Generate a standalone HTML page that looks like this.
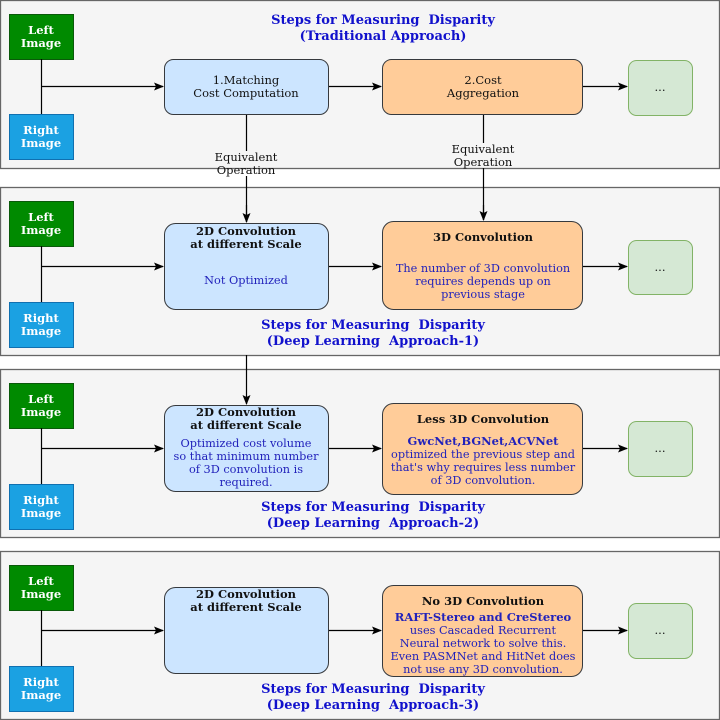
<!DOCTYPE html>
<html><head><meta charset="utf-8"><style>
html,body{margin:0;padding:0;background:#fff;}
svg{display:block;font-family:"DejaVu Serif","Liberation Serif",serif;}
.t{fill:#1111cc;font-weight:bold;font-size:13px;text-anchor:middle;white-space:pre;}
.w{fill:#fff;font-weight:bold;font-size:11.5px;text-anchor:middle;}
.k{fill:#111;font-size:11.5px;text-anchor:middle;}
.kb{fill:#111;font-weight:bold;font-size:11.5px;text-anchor:middle;}
.b{fill:#2222bb;font-size:11.3px;text-anchor:middle;}
.bb{fill:#2222bb;font-weight:bold;font-size:11.5px;text-anchor:middle;}
</style></head><body>
<svg width="720" height="720" viewBox="0 0 720 720">
<defs><marker id="a" markerWidth="10" markerHeight="8" refX="9" refY="4" orient="auto" markerUnits="userSpaceOnUse"><path d="M0,0 L10,4 L0,8 L2,4z" fill="#000"/></marker></defs>
<g fill="#f5f5f5" stroke="#666" stroke-width="1.3">
<rect x="0.5" y="0.5" width="719" height="168"/>
<rect x="0.5" y="187.5" width="719" height="168"/>
<rect x="0.5" y="369.5" width="719" height="168"/>
<rect x="0.5" y="551.5" width="719" height="168"/>
</g>
<g stroke="#0a5a0a" fill="#008a00">
<rect x="9.5" y="14.5" width="64" height="45"/><rect x="9.5" y="201.5" width="64" height="45"/>
<rect x="9.5" y="383.5" width="64" height="45"/><rect x="9.5" y="565.5" width="64" height="45"/>
</g>
<g stroke="#1070b0" fill="#1ba1e2">
<rect x="9.5" y="114.5" width="64" height="45"/><rect x="9.5" y="302.5" width="64" height="45"/>
<rect x="9.5" y="484.5" width="64" height="45"/><rect x="9.5" y="666.5" width="64" height="45"/>
</g>
<g>
<text class="w" x="41" y="34">Left</text><text class="w" x="41" y="47">Image</text>
<text class="w" x="41" y="134">Right</text><text class="w" x="41" y="147">Image</text>
<text class="w" x="41" y="221">Left</text><text class="w" x="41" y="234">Image</text>
<text class="w" x="41" y="322">Right</text><text class="w" x="41" y="335">Image</text>
<text class="w" x="41" y="403">Left</text><text class="w" x="41" y="416">Image</text>
<text class="w" x="41" y="504">Right</text><text class="w" x="41" y="517">Image</text>
<text class="w" x="41" y="585">Left</text><text class="w" x="41" y="598">Image</text>
<text class="w" x="41" y="686">Right</text><text class="w" x="41" y="699">Image</text>
</g>
<g stroke="#000" stroke-width="1.2" fill="none">
<path d="M41.5 59V114M41.5 246V302M41.5 428V484M41.5 610V666"/>
<path d="M41.5 86.5H163" marker-end="url(#a)"/>
<path d="M41.5 266.5H163" marker-end="url(#a)"/>
<path d="M41.5 448.5H163" marker-end="url(#a)"/>
<path d="M41.5 630.5H163" marker-end="url(#a)"/>
<path d="M328 86.5H381" marker-end="url(#a)"/>
<path d="M583 86.5H627" marker-end="url(#a)"/>
<path d="M328 266.5H381" marker-end="url(#a)"/>
<path d="M583 266.5H627" marker-end="url(#a)"/>
<path d="M328 448.5H381" marker-end="url(#a)"/>
<path d="M583 448.5H627" marker-end="url(#a)"/>
<path d="M328 630.5H381" marker-end="url(#a)"/>
<path d="M583 630.5H627" marker-end="url(#a)"/>
<path d="M246.5 114V151M246.5 176V222" />
<path d="M246.5 205V222" marker-end="url(#a)"/>
<path d="M483.5 114V143M483.5 168V220"/>
<path d="M483.5 205V220" marker-end="url(#a)"/>
<path d="M246.5 355V404" marker-end="url(#a)"/>
</g>
<text class="k" x="246" y="161">Equivalent</text><text class="k" x="246" y="174">Operation</text>
<text class="k" x="483" y="153">Equivalent</text><text class="k" x="483" y="166">Operation</text>
<g fill="#cce5ff" stroke="#36393d" stroke-width="1">
<rect x="164.5" y="59.5" width="164" height="55" rx="9"/>
<rect x="164.5" y="223.5" width="164" height="86" rx="11"/>
<rect x="164.5" y="405.5" width="164" height="86" rx="11"/>
<rect x="164.5" y="587.5" width="164" height="86" rx="11"/>
</g>
<g fill="#ffcc99" stroke="#36393d" stroke-width="1">
<rect x="382.5" y="59.5" width="200" height="55" rx="9"/>
<rect x="382.5" y="221.5" width="200" height="88" rx="11"/>
<rect x="382.5" y="403.5" width="200" height="91" rx="11"/>
<rect x="382.5" y="585.5" width="200" height="91" rx="11"/>
</g>
<g fill="#d5e8d4" stroke="#82b366" stroke-width="1">
<rect x="628.5" y="60.5" width="64" height="55" rx="8"/>
<rect x="628.5" y="240.5" width="64" height="54" rx="8"/>
<rect x="628.5" y="421.5" width="64" height="55" rx="8"/>
<rect x="628.5" y="603.5" width="64" height="55" rx="8"/>
</g>
<text class="k" x="660" y="91">...</text><text class="k" x="660" y="271">...</text>
<text class="k" x="660" y="452">...</text><text class="k" x="660" y="634">...</text>
<text class="k" x="246" y="84">1.Matching</text><text class="k" x="246" y="97">Cost Computation</text>
<text class="k" x="483" y="84">2.Cost</text><text class="k" x="483" y="97">Aggregation</text>
<text class="kb" x="246" y="235">2D Convolution</text><text class="kb" x="246" y="248">at different Scale</text>
<text class="b" x="246" y="284">Not Optimized</text>
<text class="kb" x="483" y="241">3D Convolution</text>
<text class="b" x="483" y="272">The number of 3D convolution</text>
<text class="b" x="483" y="285">requires depends up on</text>
<text class="b" x="483" y="298">previous stage</text>
<text class="kb" x="246" y="416">2D Convolution</text><text class="kb" x="246" y="429">at different Scale</text>
<text class="b" x="246" y="447">Optimized cost volume</text>
<text class="b" x="246" y="460">so that minimum number</text>
<text class="b" x="246" y="473">of 3D convolution is</text>
<text class="b" x="246" y="486">required.</text>
<text class="kb" x="483" y="423">Less 3D Convolution</text>
<text class="bb" x="483" y="445">GwcNet,BGNet,ACVNet</text>
<text class="b" x="483" y="458">optimized the previous step and</text>
<text class="b" x="483" y="471">that's why requires less number</text>
<text class="b" x="483" y="484">of 3D convolution.</text>
<text class="kb" x="246" y="598">2D Convolution</text><text class="kb" x="246" y="611">at different Scale</text>
<text class="kb" x="483" y="605">No 3D Convolution</text>
<text class="bb" x="483" y="621">RAFT-Stereo and CreStereo</text>
<text class="b" x="483" y="634">uses Cascaded Recurrent</text>
<text class="b" x="483" y="647">Neural network to solve this.</text>
<text class="b" x="483" y="660">Even PASMNet and HitNet does</text>
<text class="b" x="483" y="673">not use any 3D convolution.</text>
<text class="t" x="383" y="24">Steps for Measuring  Disparity</text>
<text class="t" x="383" y="40">(Traditional Approach)</text>
<text class="t" x="373" y="329">Steps for Measuring  Disparity</text>
<text class="t" x="373" y="345">(Deep Learning  Approach-1)</text>
<text class="t" x="373" y="511">Steps for Measuring  Disparity</text>
<text class="t" x="373" y="527">(Deep Learning  Approach-2)</text>
<text class="t" x="373" y="693">Steps for Measuring  Disparity</text>
<text class="t" x="373" y="709">(Deep Learning  Approach-3)</text>
</svg>
</body></html>
